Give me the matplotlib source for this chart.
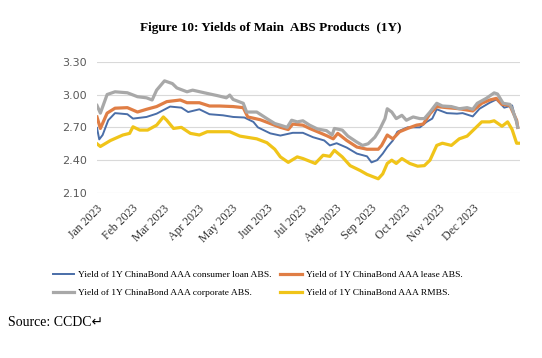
import pandas as pd
import matplotlib
matplotlib.use("Agg")
import matplotlib.pyplot as plt
import matplotlib.dates as mdates
from matplotlib.ticker import FormatStrFormatter

# === Data (yield, %) ===
consumer_dates = ["2023-01-01", "2023-01-03", "2023-01-06", "2023-01-11", "2023-01-17", "2023-01-28",
                  "2023-02-02", "2023-02-14", "2023-02-23", "2023-03-07", "2023-03-17", "2023-03-23",
                  "2023-04-02", "2023-04-11", "2023-04-23", "2023-05-02", "2023-05-12", "2023-05-20",
                  "2023-05-24", "2023-06-04", "2023-06-13", "2023-06-24", "2023-07-03", "2023-07-12",
                  "2023-07-22", "2023-07-27", "2023-08-02", "2023-08-11", "2023-08-20", "2023-08-29",
                  "2023-09-02", "2023-09-07", "2023-09-12", "2023-09-16", "2023-09-21", "2023-09-25",
                  "2023-10-04", "2023-10-15", "2023-10-21", "2023-10-26", "2023-10-30", "2023-11-08",
                  "2023-11-17", "2023-11-22", "2023-12-01", "2023-12-07", "2023-12-16", "2023-12-22",
                  "2023-12-29", "2024-01-05", "2024-01-10"]
consumer_loan = [2.695, 2.59, 2.63, 2.765, 2.83, 2.82,
                 2.78, 2.795, 2.825, 2.89, 2.88, 2.84,
                 2.865, 2.82, 2.81, 2.795, 2.79, 2.75,
                 2.70, 2.645, 2.625, 2.65, 2.65, 2.61,
                 2.58, 2.535, 2.555, 2.515, 2.46, 2.435,
                 2.38, 2.40, 2.46, 2.52, 2.58, 2.66,
                 2.70, 2.70, 2.75, 2.78, 2.865, 2.83,
                 2.825, 2.83, 2.80, 2.87, 2.925, 2.955,
                 2.88, 2.90, 2.70]

lease_dates = ["2023-01-01", "2023-01-04", "2023-01-10", "2023-01-17", "2023-01-28", "2023-02-06",
               "2023-02-14", "2023-02-23", "2023-03-04", "2023-03-16", "2023-03-22", "2023-04-02",
               "2023-04-11", "2023-04-20", "2023-05-02", "2023-05-11", "2023-05-15", "2023-05-26",
               "2023-06-04", "2023-06-13", "2023-06-20", "2023-06-24", "2023-07-03", "2023-07-09",
               "2023-07-16", "2023-07-25", "2023-07-30", "2023-08-03", "2023-08-11", "2023-08-20",
               "2023-08-29", "2023-09-08", "2023-09-11", "2023-09-16", "2023-09-21", "2023-09-27",
               "2023-10-04", "2023-10-12", "2023-10-18", "2023-10-24", "2023-10-30", "2023-11-08",
               "2023-11-19", "2023-12-01", "2023-12-09", "2023-12-16", "2023-12-22", "2023-12-27",
               "2024-01-03", "2024-01-09", "2024-01-10"]
lease = [2.795, 2.69, 2.83, 2.875, 2.88, 2.84,
         2.865, 2.89, 2.935, 2.95, 2.925, 2.925,
         2.895, 2.895, 2.89, 2.88, 2.795, 2.77,
         2.735, 2.70, 2.68, 2.73, 2.72, 2.69,
         2.66, 2.62, 2.595, 2.645, 2.58, 2.52,
         2.50, 2.50, 2.535, 2.63, 2.595, 2.66,
         2.69, 2.72, 2.73, 2.825, 2.89, 2.88,
         2.87, 2.85, 2.92, 2.95, 2.965, 2.91,
         2.90, 2.765, 2.70]

corporate_dates = ["2023-01-01", "2023-01-04", "2023-01-10", "2023-01-17", "2023-01-28", "2023-02-06",
                   "2023-02-14", "2023-02-19", "2023-02-23", "2023-03-02", "2023-03-09", "2023-03-13",
                   "2023-03-22", "2023-03-27", "2023-04-09", "2023-04-18", "2023-04-26", "2023-04-29",
                   "2023-05-02", "2023-05-11", "2023-05-14", "2023-05-23", "2023-06-01", "2023-06-08",
                   "2023-06-13", "2023-06-19", "2023-06-23", "2023-06-28", "2023-07-03", "2023-07-09",
                   "2023-07-16", "2023-07-24", "2023-07-29", "2023-07-31", "2023-08-07", "2023-08-12",
                   "2023-08-20", "2023-08-25", "2023-08-30", "2023-09-05", "2023-09-09", "2023-09-14",
                   "2023-09-16", "2023-09-20", "2023-09-24", "2023-09-29", "2023-10-03", "2023-10-09",
                   "2023-10-15", "2023-10-19", "2023-10-24", "2023-10-30", "2023-11-04", "2023-11-12",
                   "2023-11-19", "2023-11-26", "2023-12-01", "2023-12-05", "2023-12-13", "2023-12-20",
                   "2023-12-23", "2023-12-28", "2024-01-03", "2024-01-05", "2024-01-09", "2024-01-10"]
corporate = [2.90, 2.83, 3.00, 3.025, 3.016, 2.98,
             2.97, 2.95, 3.04, 3.125, 3.10, 3.06,
             3.025, 3.04, 3.01, 2.99, 2.97, 2.995,
             2.955, 2.92, 2.84, 2.84, 2.78, 2.735,
             2.72, 2.70, 2.765, 2.75, 2.76, 2.72,
             2.685, 2.67, 2.63, 2.69, 2.675, 2.62,
             2.565, 2.535, 2.55, 2.61, 2.675, 2.78,
             2.87, 2.84, 2.78, 2.81, 2.765, 2.795,
             2.78, 2.78, 2.84, 2.92, 2.895, 2.89,
             2.87, 2.88, 2.865, 2.92, 2.965, 3.015,
             3.005, 2.92, 2.91, 2.87, 2.75, 2.70]

rmbs_dates = ["2023-01-01", "2023-01-04", "2023-01-13", "2023-01-24", "2023-01-30", "2023-02-02",
              "2023-02-08", "2023-02-15", "2023-02-23", "2023-03-01", "2023-03-04", "2023-03-10",
              "2023-03-17", "2023-03-25", "2023-04-02", "2023-04-09", "2023-04-18", "2023-04-29",
              "2023-05-08", "2023-05-17", "2023-05-23", "2023-06-01", "2023-06-08", "2023-06-13",
              "2023-06-20", "2023-06-28", "2023-07-03", "2023-07-14", "2023-07-21", "2023-07-27",
              "2023-07-31", "2023-08-07", "2023-08-14", "2023-08-23", "2023-08-29", "2023-09-03",
              "2023-09-08", "2023-09-12", "2023-09-16", "2023-09-20", "2023-09-24", "2023-09-29",
              "2023-10-06", "2023-10-13", "2023-10-19", "2023-10-24", "2023-10-30", "2023-11-04",
              "2023-11-12", "2023-11-19", "2023-11-26", "2023-12-03", "2023-12-09", "2023-12-16",
              "2023-12-20", "2023-12-27", "2024-01-01", "2024-01-05", "2024-01-09", "2024-01-11"]
rmbs = [2.55, 2.525, 2.58, 2.63, 2.645, 2.705,
        2.675, 2.675, 2.72, 2.795, 2.765, 2.69,
        2.70, 2.645, 2.63, 2.66, 2.66, 2.66,
        2.62, 2.605, 2.595, 2.56, 2.50, 2.43,
        2.38, 2.43, 2.415, 2.37, 2.445, 2.435,
        2.49, 2.43, 2.35, 2.305, 2.27, 2.25,
        2.23, 2.275, 2.37, 2.40, 2.37, 2.415,
        2.37, 2.345, 2.35, 2.40, 2.535, 2.555,
        2.535, 2.595, 2.62, 2.69, 2.75, 2.75,
        2.76, 2.71, 2.75, 2.68, 2.555, 2.555]

labels = ["Yield of 1Y ChinaBond AAA consumer loan ABS.",
          "Yield of 1Y ChinaBond AAA lease ABS.",
          "Yield of 1Y ChinaBond AAA corporate ABS.",
          "Yield of 1Y ChinaBond AAA RMBS."]
month_ticks = pd.date_range("2023-01-01", "2023-12-01", freq="MS")
y_ticks = [2.10, 2.40, 2.70, 3.00, 3.30]

serif = ["Liberation Serif", "DejaVu Serif"]

fig = plt.figure(figsize=(5.42, 3.58), dpi=100)
ax = fig.add_axes([97 / 542, 1 - 193 / 358, 423 / 542, 131.3 / 358])

h1, = ax.plot(pd.to_datetime(consumer_dates), consumer_loan, color="#4a6ea8", lw=1.4)
h2, = ax.plot(pd.to_datetime(lease_dates), lease, color="#e07e45", lw=2.3)
h3, = ax.plot(pd.to_datetime(corporate_dates), corporate, color="#a8a8a8", lw=2.3)
h4, = ax.plot(pd.to_datetime(rmbs_dates), rmbs, color="#f0c419", lw=2.3)

ax.set_xlim(pd.Timestamp("2023-01-01"), pd.Timestamp("2024-01-12"))
ax.set_ylim(2.10, 3.30)
ax.set_yticks(y_ticks)
ax.yaxis.set_major_formatter(FormatStrFormatter("%.2f"))
ax.set_xticks(month_ticks)
ax.xaxis.set_major_formatter(mdates.DateFormatter("%b %Y"))
ax.grid(axis="y", color="#d9d9d9", lw=0.8)
ax.set_axisbelow(True)
for s in ax.spines.values():
    s.set_visible(False)
ax.tick_params(axis="both", length=0)
ax.tick_params(axis="y", labelsize=8, colors="#595959", pad=7)
for lab in ax.get_xticklabels():
    lab.set_rotation(45)
    lab.set_ha("right")
    lab.set_rotation_mode("anchor")
    lab.set_fontfamily(serif)
    lab.set_fontsize(8.5)
    lab.set_color("#333333")
ax.tick_params(axis="x", pad=7)

fig.text(0.5, 1 - 28 / 358, "Figure 10: Yields of Main  ABS Products  (1Y)",
         ha="center", va="center", fontsize=9.5, fontweight="bold", family=serif)

# row-major legend order: consumer, lease / corporate, RMBS
fig.legend([h1, h3, h2, h4], [labels[0], labels[2], labels[1], labels[3]], loc="upper left",
           bbox_to_anchor=(44 / 542, 1 - 262 / 358), ncol=2, frameon=False,
           prop={"family": serif, "size": 6.8}, handlelength=2.3,
           handletextpad=0.4, columnspacing=0.9, labelspacing=1.0)

fig.text(8 / 542, 1 - 323 / 358, "Source: CCDC\u21b5", ha="left", va="center",
         fontsize=10, family=["Liberation Serif", "DejaVu Sans"])

fig.savefig("out.png", dpi=100)
